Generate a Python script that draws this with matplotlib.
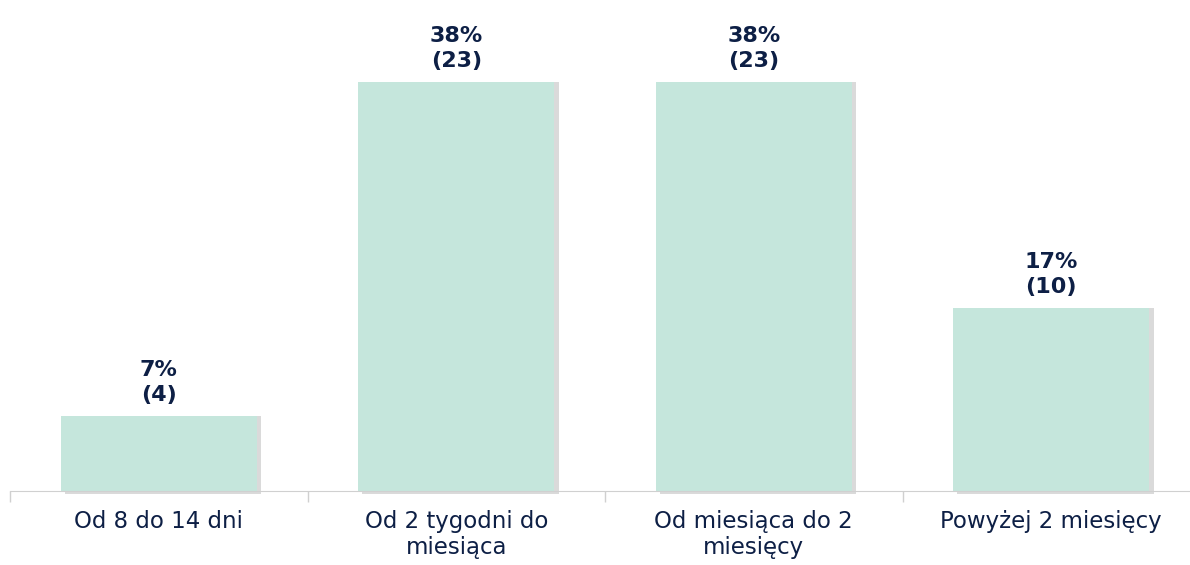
import matplotlib.pyplot as plt
import matplotlib.ticker as ticker

categories = ["Od 8 do 14 dni", "Od 2 tygodni do\nmiesiąca", "Od miesiąca do 2\nmiesięcy", "Powyżej 2 miesięcy"]
percents = [7, 38, 38, 17]
counts = [4, 23, 23, 10]

BAR_COLOR = "#c5e6dc"
SHADOW_COLOR = "#dadada"
TEXT_COLOR = "#0d1f45"

plt.rcParams["font.family"] = "sans-serif"
plt.rcParams["font.sans-serif"] = ["DejaVu Sans"]

fig = plt.figure(figsize=(11.9, 5.65), dpi=100)
ax = fig.add_axes([10 / 1190, 1 - 491 / 565, 1190 / 1190, 491 / 565])

x = list(range(len(categories)))
shadow_x = [i + 0.014 for i in x]
shadow_h = [p + 0.3 for p in percents]
ax.bar(shadow_x, shadow_h, width=0.66, bottom=-0.3, color=SHADOW_COLOR, zorder=1, clip_on=False)
ax.bar(x, percents, width=0.66, color=BAR_COLOR, zorder=2)

for i, (p, c) in enumerate(zip(percents, counts)):
    ax.annotate(f"{p}%\n({c})", xy=(i, p), xytext=(0, 8), textcoords="offset points",
                ha="center", va="bottom", fontsize=16, fontweight="bold",
                color=TEXT_COLOR, linespacing=1.3, family="DejaVu Sans")

ax.set_xlim(-0.5, 3.5)
ax.set_ylim(0, 45.6)
ax.set_xticks(x)
ax.set_xticklabels(categories, fontsize=16.5, color=TEXT_COLOR, linespacing=1.15,
                   family="DejaVu Sans")
ax.xaxis.set_minor_locator(ticker.FixedLocator([-0.5, 0.5, 1.5, 2.5]))
ax.tick_params(axis="x", which="major", length=0, pad=14)
ax.tick_params(axis="x", which="minor", length=8, color="#d0d0d0", width=1)
ax.set_yticks([])

for side in ["top", "right", "left"]:
    ax.spines[side].set_visible(False)
ax.spines["bottom"].set_color("#d0d0d0")
ax.spines["bottom"].set_zorder(3)

fig.savefig("out.png", dpi=100)
